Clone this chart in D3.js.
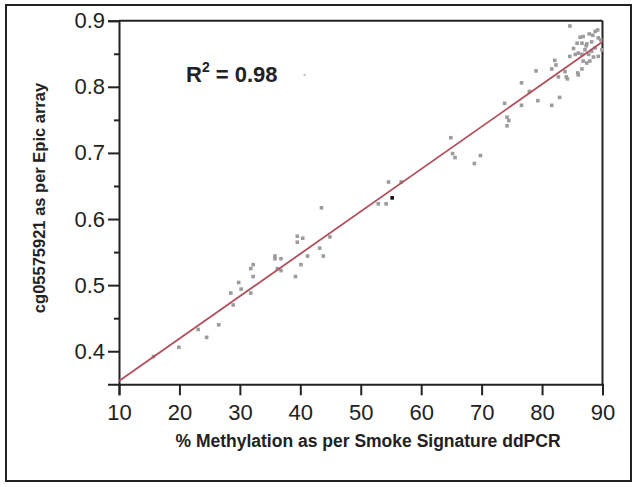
<!DOCTYPE html>
<html><head><meta charset="utf-8">
<script src="https://cdn.jsdelivr.net/npm/d3@7"></script>
<style>
html,body{margin:0;padding:0;background:#fff;}
svg{display:block;font-family:"Liberation Sans",Arial,sans-serif;}
</style></head>
<body>
<svg id="chart" width="638" height="487"></svg>
<script>
// ---- data ----
const xTicks = [10,20,30,40,50,60,70,80,90];
const yTicks = [0.4,0.5,0.6,0.7,0.8,0.9];
const yMinorTicks = [0.45,0.55,0.65,0.75,0.85];
const xLabel = "% Methylation as per Smoke Signature ddPCR";
const yLabel = "cg05575921 as per Epic array";
const r2Text = "0.98";
const fitX = [10, 90];
const fitY = [0.355, 0.868];
const ddpcr = [15.7,19.9,23.1,24.5,26.5,28.5,28.9,29.8,30.2,31.8,31.8,32.2,32.2,35.8,35.8,36.8,36.2,36.8,39.2,39.5,39.5,40.4,40.1,41.2,43.5,43.2,43.8,44.9,52.9,54.2,54.6,56.7,
  64.9,65.2,65.6,68.8,69.8,73.8,74.2,74.5,74.2,76.6,76.6,77.9,79.0,79.3,81.6,81.6,82.1,82.3,82.7,82.9,83.8,84.0,84.2,
  84.6,86.3,86.8,85.8,86.6,87.8,88.4,88.8,89.2,88.2,89.3,87.4,87.1,86.0,86.6,87.7,88.2,88.8,89.3,87.9,86.8,85.5,84.6,85.9,86.6,87.4,89.7,89.9,87.3,88.5,85.2,86.0];
const epic = [0.392,0.406,0.433,0.421,0.440,0.488,0.470,0.504,0.494,0.488,0.525,0.531,0.513,0.544,0.540,0.540,0.525,0.522,0.513,0.574,0.565,0.571,0.531,0.544,0.617,0.556,0.544,0.573,0.623,0.623,0.656,0.656,
  0.723,0.699,0.693,0.684,0.696,0.775,0.754,0.749,0.741,0.806,0.772,0.793,0.824,0.779,0.827,0.772,0.840,0.833,0.815,0.784,0.823,0.815,0.812,
  0.892,0.875,0.876,0.866,0.866,0.880,0.878,0.884,0.886,0.868,0.874,0.865,0.856,0.851,0.849,0.849,0.854,0.859,0.846,0.839,0.839,0.849,0.846,0.821,0.827,0.836,0.871,0.856,0.862,0.845,0.858,0.818];
const highlightX = [55.2];
const highlightY = [0.632];
const strayX = [40.7];
const strayY = [0.818];

// ---- layout ----
const svg = d3.select("#chart");
const x = d3.scaleLinear().domain([10,90]).range([119,602.5]);
const y = d3.scaleLinear().domain([0.35,0.9]).range([384.3,20.7]);

// outer frame
svg.append("rect").attr("x",6).attr("y",5).attr("width",625).attr("height",476)
  .attr("fill","none").attr("stroke","#222").attr("stroke-width",2);

// plot box top/right
svg.append("line").attr("x1",x(10)).attr("x2",x(90)).attr("y1",y(0.9)).attr("y2",y(0.9))
  .attr("stroke","#222").attr("stroke-width",2);
svg.append("line").attr("x1",x(90)).attr("x2",x(90)).attr("y1",y(0.9)).attr("y2",y(0.35))
  .attr("stroke","#222").attr("stroke-width",2);

// axes
svg.append("g").attr("transform",`translate(0,${y(0.35)})`)
  .call(d3.axisBottom(x).tickValues(xTicks).tickSize(11).tickPadding(9).tickFormat(d3.format("d")));
svg.append("g").attr("transform",`translate(${x(10)},0)`)
  .call(d3.axisLeft(y).tickValues(yTicks).tickSize(11).tickPadding(3).tickFormat(d3.format(".1f")));
svg.append("g").attr("transform",`translate(${x(10)},0)`)
  .call(d3.axisLeft(y).tickValues(yMinorTicks).tickSize(5).tickFormat(""))
  .call(g=>g.select(".domain").remove());
svg.selectAll(".domain").attr("stroke","#222").attr("stroke-width",2);
svg.selectAll(".tick line").attr("stroke","#222").attr("stroke-width",2);
svg.selectAll(".tick text").attr("font-family","'Liberation Sans',Arial,sans-serif")
  .attr("font-size",22).attr("fill","#222");

// points
const pts = ddpcr.map((d,i)=>({x:d,y:epic[i]}));
const s = 3.6;
svg.append("g").selectAll("rect").data(pts).join("rect")
  .attr("x",d=>x(d.x)-s/2).attr("y",d=>y(d.y)-s/2).attr("width",s).attr("height",s)
  .attr("fill","#9c9c9c");
svg.append("g").selectAll("rect").data(strayX.map((d,i)=>({x:d,y:strayY[i]}))).join("rect")
  .attr("x",d=>x(d.x)-1).attr("y",d=>y(d.y)-1).attr("width",2).attr("height",2).attr("fill","#bbb");

// regression line
svg.append("line").attr("x1",x(fitX[0])).attr("y1",y(fitY[0])).attr("x2",x(fitX[1])).attr("y2",y(fitY[1]))
  .attr("stroke","#b0505e").attr("stroke-width",1.8);

// highlighted point
svg.append("g").selectAll("rect").data(highlightX.map((d,i)=>({x:d,y:highlightY[i]}))).join("rect")
  .attr("x",d=>x(d.x)-s/2).attr("y",d=>y(d.y)-s/2).attr("width",s).attr("height",s).attr("fill","#111");

// R^2
const t = svg.append("text").attr("x",186).attr("y",82).attr("font-size",22).attr("font-weight","bold").attr("fill","#222");
t.append("tspan").text("R");
t.append("tspan").attr("font-size",14).attr("dy",-10).text("2");
t.append("tspan").attr("dy",10).text(" = " + r2Text);

// axis titles
svg.append("text").attr("x",368).attr("y",447).attr("text-anchor","middle")
  .attr("font-size",17.5).attr("font-weight","bold").attr("fill","#222").text(xLabel);
svg.append("text").attr("transform","translate(45,198) rotate(-90)").attr("text-anchor","middle")
  .attr("font-size",16.5).attr("font-weight","bold").attr("fill","#222").text(yLabel);
</script>
</body></html>
